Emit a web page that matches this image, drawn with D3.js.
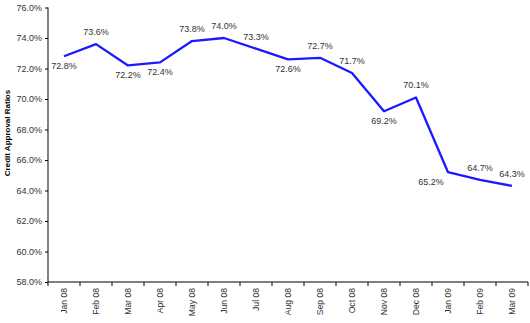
<!DOCTYPE html>
<html><head><meta charset="utf-8">
<script src="https://cdn.jsdelivr.net/npm/d3@7"></script>
<style>body{margin:0;background:#fff}svg{display:block}</style>
</head><body>
<svg id="c" width="530" height="323"></svg>
<script>
const categories = ["Jan 08","Feb 08","Mar 08","Apr 08","May 08","Jun 08","Jul 08","Aug 08","Sep 08","Oct 08","Nov 08","Dec 08","Jan 09","Feb 09","Mar 09"];
const values = [72.8,73.6,72.2,72.4,73.8,74.0,73.3,72.6,72.7,71.7,69.2,70.1,65.2,64.7,64.3];
const labelPlacement = ["below","above","below","below","above","above","above","below","above","above","below","above","left","above","above"];
const yTicks = [58,60,62,64,66,68,70,72,74,76];
const yTitle = "Credit Approval Ratios";

const svg = d3.select("#c");
const font = "Liberation Sans, Arial, sans-serif";
const x = d3.scaleBand().domain(categories).range([48,528]);
const y = d3.scaleLinear().domain([58,76]).range([282,7.5]);

// axes
const yAx = svg.append("g").attr("transform","translate(48,0)")
  .call(d3.axisLeft(y).tickValues(yTicks).tickSize(3).tickPadding(3).tickFormat(d=>d.toFixed(1)+"%"));
yAx.select(".domain").attr("stroke","#000").attr("d","M0,7.5V282");
yAx.selectAll(".tick line").attr("stroke","#000");
yAx.selectAll(".tick text").attr("font-family",font).attr("font-size",9).attr("fill","#333");

const xAx = svg.append("g").attr("transform","translate(0,282)")
  .call(d3.axisBottom(x).tickSize(0).tickPadding(0));
xAx.select(".domain").attr("stroke","#000").attr("d","M48,0H528");
xAx.selectAll(".tick line").remove();
xAx.selectAll(".tick text")
  .attr("font-family",font).attr("font-size",8.6).attr("fill","#333")
  .attr("text-anchor","end").attr("dy",null).attr("y",0)
  .attr("transform","translate(3,6) rotate(-90)");
// boundary tick marks
const bounds = categories.map(c=>x(c)+x.bandwidth()).concat([x(categories[0])]);
xAx.selectAll(".btick").data(bounds).enter().append("line")
  .attr("x1",d=>d).attr("x2",d=>d).attr("y1",0).attr("y2",4).attr("stroke","#000");

// title
svg.append("text").attr("transform","translate(10,133) rotate(-90)")
  .attr("text-anchor","middle").attr("font-family",font).attr("font-size",8)
  .attr("font-weight","bold").attr("fill","#000").text(yTitle);

// line
const cx = c=>x(c)+x.bandwidth()/2;
svg.append("path").datum(values)
  .attr("fill","none").attr("stroke","#1a1aff").attr("stroke-width",2.3)
  .attr("stroke-linejoin","round")
  .attr("d",d3.line().x((d,i)=>cx(categories[i])).y(d=>y(d)));

// labels
svg.selectAll(".lbl").data(values).enter().append("text")
  .attr("font-family",font).attr("font-size",9).attr("fill","#333")
  .attr("text-anchor","middle")
  .attr("x",(d,i)=>cx(categories[i]) + (labelPlacement[i]==="left"?-17:0))
  .attr("y",(d,i)=>{const p=labelPlacement[i];return y(d)+(p==="above"?-9:(p==="left"?13:13));})
  .text(d=>d.toFixed(1)+"%");
</script>
</body></html>
